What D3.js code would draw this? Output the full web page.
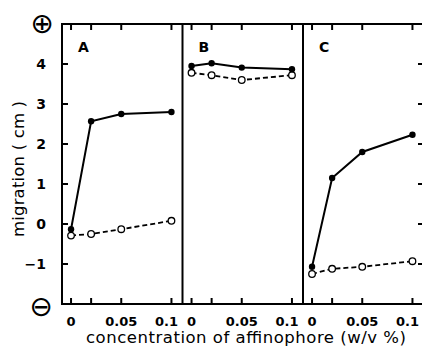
<!DOCTYPE html>
<html><head><meta charset="utf-8">
<script src="https://cdn.jsdelivr.net/npm/d3@7"></script>
<style>body{margin:0;background:#fff}svg{display:block}text{font-family:"DejaVu Sans",sans-serif;fill:#000}</style>
</head><body>
<script>
const concentrations = [0, 0.02, 0.05, 0.1];
const panels = ["A", "B", "C"];
const filledA = [-0.13, 2.57, 2.75, 2.8];
const openA = [-0.29, -0.25, -0.13, 0.08];
const filledB = [3.95, 4.02, 3.91, 3.87];
const openB = [3.78, 3.72, 3.6, 3.72];
const filledC = [-1.07, 1.15, 1.8, 2.23];
const openC = [-1.25, -1.12, -1.07, -0.93];
const yTicks = [-1, 0, 1, 2, 3, 4];
const xTickLabels = [0, 0.05, 0.1];
const xTickMarks = [0, 0.02, 0.05, 0.1];
const filledSeries = [filledA, filledB, filledC];
const openSeries = [openA, openB, openC];

(function () {
const W = 422, H = 352;
const svg = d3.select("body").append("svg").attr("width", W).attr("height", H);
const pTop = 24, pBottom = 304, pLeft = 62, pw = 120.5;
const y = d3.scaleLinear().domain([-2, 5]).range([pBottom, pTop]);

panels.forEach((p, i) => {
  const x0 = pLeft + i * pw;
  const x = d3.scaleLinear().domain([-0.009, 0.111]).range([x0, x0 + pw]);
  const g = svg.append("g");
  g.selectAll(".tt").data(xTickMarks).join("line").attr("class", "tt")
    .attr("x1", d => x(d)).attr("x2", d => x(d)).attr("y1", pTop).attr("y2", pTop + 6)
    .attr("stroke", "#000").attr("stroke-width", 2);
  g.selectAll(".bt").data(xTickMarks).join("line").attr("class", "bt")
    .attr("x1", d => x(d)).attr("x2", d => x(d)).attr("y1", pBottom).attr("y2", pBottom - 6)
    .attr("stroke", "#000").attr("stroke-width", 2);
  g.selectAll(".xl").data(xTickLabels).join("text").attr("class", "xl")
    .attr("x", d => x(d) - (d === 0.1 ? 5 : 0)).attr("y", 326).attr("text-anchor", "middle")
    .attr("font-size", 13).attr("font-weight", "bold").text(d => d === 0 ? "0" : String(d));
  g.append("text").attr("x", x0 + 16).attr("y", 52).attr("font-size", 14).attr("font-weight", "bold").text(p);

  const line = d3.line().x((d, j) => x(concentrations[j])).y(d => y(d));
  g.append("path").datum(openSeries[i]).attr("d", line).attr("fill", "none")
    .attr("stroke", "#000").attr("stroke-width", 1.8).attr("stroke-dasharray", "5,3");
  g.append("path").datum(filledSeries[i]).attr("d", line).attr("fill", "none")
    .attr("stroke", "#000").attr("stroke-width", 2);
  g.selectAll(".oc").data(openSeries[i]).join("circle").attr("class", "oc")
    .attr("cx", (d, j) => x(concentrations[j])).attr("cy", d => y(d)).attr("r", 3.3)
    .attr("fill", "#fff").attr("stroke", "#000").attr("stroke-width", 1.3);
  g.selectAll(".fc").data(filledSeries[i]).join("circle").attr("class", "fc")
    .attr("cx", (d, j) => x(concentrations[j])).attr("cy", d => y(d)).attr("r", 3.2)
    .attr("fill", "#000");
});

const fr = svg.append("g").attr("stroke", "#000").attr("stroke-width", 2).attr("fill", "none");
fr.append("line").attr("x1", pLeft).attr("x2", W).attr("y1", pTop).attr("y2", pTop);
fr.append("line").attr("x1", pLeft).attr("x2", W).attr("y1", pBottom).attr("y2", pBottom);
fr.append("line").attr("x1", pLeft).attr("x2", pLeft).attr("y1", pTop - 1).attr("y2", pBottom + 1);
[1, 2].forEach(i => fr.append("line").attr("x1", pLeft + i * pw).attr("x2", pLeft + i * pw).attr("y1", pTop).attr("y2", pBottom));

svg.selectAll(".ly").data(yTicks).join("line").attr("class", "ly")
  .attr("x1", pLeft).attr("x2", pLeft + 6).attr("y1", d => y(d)).attr("y2", d => y(d))
  .attr("stroke", "#000").attr("stroke-width", 2);
svg.selectAll(".ry").data(yTicks).join("line").attr("class", "ry")
  .attr("x1", W - 4).attr("x2", W).attr("y1", d => y(d)).attr("y2", d => y(d))
  .attr("stroke", "#000").attr("stroke-width", 2);
svg.selectAll(".yl").data(yTicks).join("text").attr("class", "yl")
  .attr("x", 46).attr("y", d => y(d) + 5).attr("text-anchor", "end")
  .attr("font-size", 14).attr("font-weight", "bold").text(d => d < 0 ? "\u2212" + Math.abs(d) : d);

svg.append("text").attr("x", 42).attr("y", 33).attr("text-anchor", "middle").attr("font-size", 28).text("\u2295");
svg.append("text").attr("x", 41).attr("y", 316).attr("text-anchor", "middle").attr("font-size", 28).text("\u2296");

svg.append("text").attr("x", 246).attr("y", 343).attr("text-anchor", "middle")
  .attr("font-size", 16.5).attr("textLength", 320).attr("lengthAdjust", "spacing")
  .text("concentration of affinophore (w/v %)");
svg.append("text").attr("transform", "translate(24,169) rotate(-90)").attr("text-anchor", "middle")
  .attr("font-size", 16.5).attr("textLength", 136).attr("lengthAdjust", "spacing")
  .text("migration ( cm )");
})();
</script>
</body></html>
